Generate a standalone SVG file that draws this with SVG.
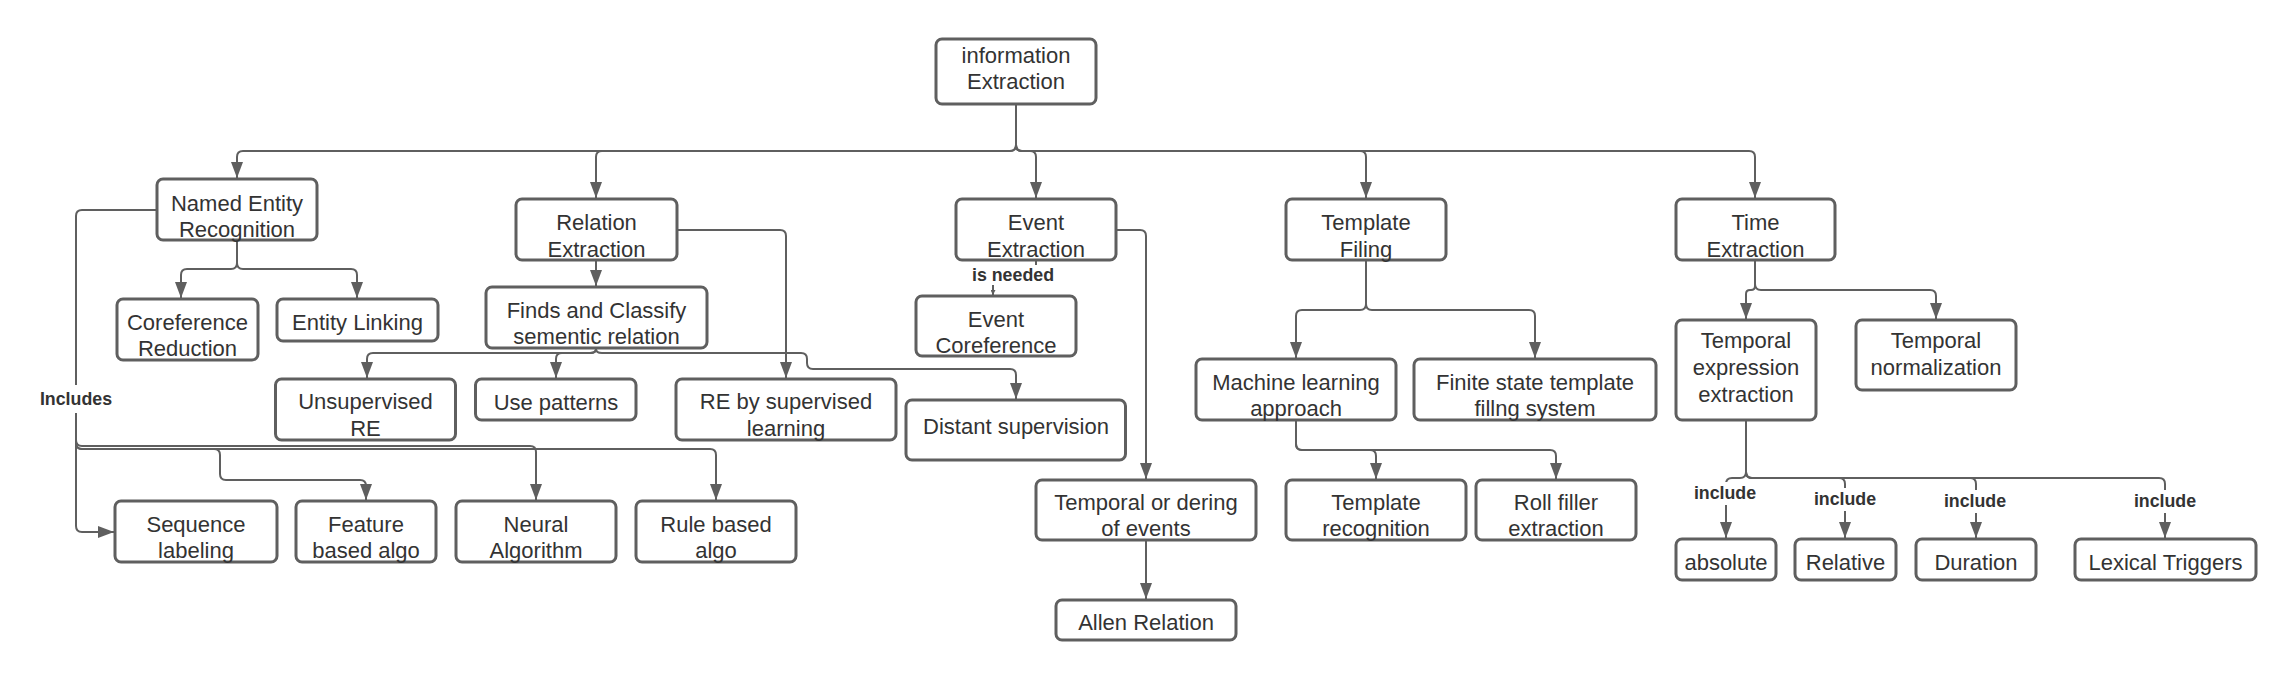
<svg xmlns="http://www.w3.org/2000/svg" width="2296" height="680" viewBox="0 0 2296 680">
<style>
.box{fill:#fff;stroke:#5f5f5f;stroke-width:3}
.t{font-family:"Liberation Sans",Arial,sans-serif;font-size:22px;fill:#333;text-anchor:middle}
.lbl{font-family:"Liberation Sans",Arial,sans-serif;font-size:17.8px;font-weight:bold;fill:#333;text-anchor:middle}
.c{fill:none;stroke:#5f5f5f;stroke-width:2}
.a{marker-end:url(#ah)}
.lb{fill:#fff}
</style>
<defs>
<marker id="ah" viewBox="0 0 16 12" refX="16" refY="6" markerWidth="16" markerHeight="12" markerUnits="userSpaceOnUse" orient="auto"><path d="M0,0 L16,6 L0,12 z" fill="#5f5f5f"/></marker>
<marker id="sm" viewBox="0 0 6 6" refX="6" refY="3" markerWidth="5" markerHeight="5" markerUnits="userSpaceOnUse" orient="auto"><path d="M0,0 L6,3 L0,6 z" fill="#5f5f5f"/></marker>
</defs>
<rect width="2296" height="680" fill="#fff"/>
<g id="connectors">
<path class="c a" d="M1016,104 V145 Q1016,151 1010,151 H243 Q237,151 237,157 V178"/>
<path class="c a" d="M1016,104 V145 Q1016,151 1010,151 H602 Q596,151 596,157 V198"/>
<path class="c a" d="M1016,104 V145 Q1016,151 1022,151 H1030 Q1036,151 1036,157 V198"/>
<path class="c a" d="M1016,104 V145 Q1016,151 1022,151 H1360 Q1366,151 1366,157 V198"/>
<path class="c a" d="M1016,104 V145 Q1016,151 1022,151 H1749 Q1755,151 1755,157 V198"/>
<path class="c a" d="M237,240 V263 Q237,269 231,269 H187 Q181,269 181,275 V298"/>
<path class="c a" d="M237,240 V263 Q237,269 243,269 H351 Q357,269 357,275 V298"/>
<path class="c a" d="M596,260 V286"/>
<path class="c a" d="M677,230 H780 Q786,230 786,236 V378"/>
<path class="c a" d="M596,349 Q596,353 590,353 H373 Q367,353 367,359 V378"/>
<path class="c a" d="M596,349 Q596,353 590,353 H562 Q556,353 556,359 V378"/>
<path class="c a" d="M596,349 Q596,353 602,353 H801 Q807,353 807,359 V363 Q807,369 813,369 H1010 Q1016,369 1016,375 V399"/>
<path class="c a" d="M157,210 H82 Q76,210 76,216 V526 Q76,532 82,532 H114"/>
<path class="c a" d="M76,440 Q76,446 82,446 H530 Q536,446 536,452 V500"/>
<path class="c a" d="M76,443 Q76,449 82,449 H710 Q716,449 716,455 V500"/>
<path class="c a" d="M76,443 Q76,449 82,449 H214 Q220,449 220,455 V474 Q220,480 226,480 H360 Q366,480 366,486 V500"/>
<path class="c" d="M1036,260 V272 H999 Q993,272 993,278 V295" marker-end="url(#sm)"/>
<path class="c a" d="M1116,230 H1140 Q1146,230 1146,236 V479"/>
<path class="c a" d="M1146,540 V599"/>
<path class="c a" d="M1366,260 V304 Q1366,310 1360,310 H1302 Q1296,310 1296,316 V358"/>
<path class="c a" d="M1366,260 V304 Q1366,310 1372,310 H1529 Q1535,310 1535,316 V358"/>
<path class="c a" d="M1296,420 V444 Q1296,450 1302,450 H1370 Q1376,450 1376,456 V479"/>
<path class="c a" d="M1296,420 V444 Q1296,450 1302,450 H1550 Q1556,450 1556,456 V479"/>
<path class="c a" d="M1755,260 V286 Q1755,290 1751,290 H1750 Q1746,290 1746,294 V319"/>
<path class="c a" d="M1755,260 V284 Q1755,290 1761,290 H1930 Q1936,290 1936,296 V319"/>
<path class="c a" d="M1746,420 V472 Q1746,478 1740,478 H1732 Q1726,478 1726,484 V538"/>
<path class="c a" d="M1746,420 V472 Q1746,478 1752,478 H1839 Q1845,478 1845,484 V538"/>
<path class="c a" d="M1746,420 V472 Q1746,478 1752,478 H1970 Q1976,478 1976,484 V538"/>
<path class="c a" d="M1746,420 V472 Q1746,478 1752,478 H2159 Q2165,478 2165,484 V538"/>
<rect class="lb" x="36" y="385" width="80" height="28"/>
<text class="lbl" x="76" y="405">Includes</text>
<rect class="lb" x="970" y="265" width="86" height="20"/>
<text class="lbl" x="1013" y="281">is needed</text>
<rect class="lb" x="1690" y="482" width="70" height="23"/>
<text class="lbl" x="1725" y="499">include</text>
<rect class="lb" x="1810" y="488" width="70" height="23"/>
<text class="lbl" x="1845" y="505">include</text>
<rect class="lb" x="1940" y="490" width="70" height="23"/>
<text class="lbl" x="1975" y="507">include</text>
<rect class="lb" x="2130" y="490" width="70" height="23"/>
<text class="lbl" x="2165" y="507">include</text>
</g>
<g id="ie"><rect class="box" x="936" y="39" width="160" height="65" rx="6"/><text class="t" x="1016" y="63">information</text><text class="t" x="1016" y="89">Extraction</text></g>
<g id="ner"><rect class="box" x="157" y="179" width="160" height="61" rx="6"/><text class="t" x="237" y="211">Named Entity</text><text class="t" x="237" y="237">Recognition</text></g>
<g id="re"><rect class="box" x="516" y="199" width="161" height="61" rx="6"/><text class="t" x="596.5" y="230">Relation</text><text class="t" x="596.5" y="257">Extraction</text></g>
<g id="ee"><rect class="box" x="956" y="199" width="160" height="61" rx="6"/><text class="t" x="1036" y="230">Event</text><text class="t" x="1036" y="257">Extraction</text></g>
<g id="tf"><rect class="box" x="1286" y="199" width="160" height="61" rx="6"/><text class="t" x="1366" y="230">Template</text><text class="t" x="1366" y="257">Filing</text></g>
<g id="te"><rect class="box" x="1676" y="199" width="159" height="61" rx="6"/><text class="t" x="1755.5" y="230">Time</text><text class="t" x="1755.5" y="257">Extraction</text></g>
<g id="coref"><rect class="box" x="117" y="299" width="141" height="61" rx="6"/><text class="t" x="187.5" y="330">Coreference</text><text class="t" x="187.5" y="356">Reduction</text></g>
<g id="el"><rect class="box" x="277" y="299" width="161" height="42" rx="6"/><text class="t" x="357.5" y="330">Entity Linking</text></g>
<g id="finds"><rect class="box" x="486" y="287" width="221" height="61" rx="6"/><text class="t" x="596.5" y="318">Finds and Classify</text><text class="t" x="596.5" y="344">sementic relation</text></g>
<g id="evcoref"><rect class="box" x="916" y="296" width="160" height="60" rx="6"/><text class="t" x="996" y="327">Event</text><text class="t" x="996" y="353">Coreference</text></g>
<g id="unsup"><rect class="box" x="275.5" y="379" width="180" height="61" rx="6"/><text class="t" x="365.5" y="409">Unsupervised</text><text class="t" x="365.5" y="436">RE</text></g>
<g id="usep"><rect class="box" x="475.5" y="379" width="160.5" height="41" rx="6"/><text class="t" x="556" y="409.5">Use patterns</text></g>
<g id="resup"><rect class="box" x="676" y="379" width="220" height="61" rx="6"/><text class="t" x="786" y="409">RE by supervised</text><text class="t" x="786" y="436">learning</text></g>
<g id="distant"><rect class="box" x="906" y="400" width="219.5" height="60" rx="6"/><text class="t" x="1016" y="434">Distant supervision</text></g>
<g id="ml"><rect class="box" x="1196" y="359" width="200" height="61" rx="6"/><text class="t" x="1296" y="390">Machine learning</text><text class="t" x="1296" y="415.5">approach</text></g>
<g id="fs"><rect class="box" x="1414" y="359" width="242" height="61" rx="6"/><text class="t" x="1535" y="390">Finite state template</text><text class="t" x="1535" y="415.5">fillng system</text></g>
<g id="seq"><rect class="box" x="115" y="501" width="162" height="61" rx="6"/><text class="t" x="196" y="532">Sequence</text><text class="t" x="196" y="558">labeling</text></g>
<g id="feat"><rect class="box" x="296" y="501" width="140" height="61" rx="6"/><text class="t" x="366" y="532">Feature</text><text class="t" x="366" y="558">based algo</text></g>
<g id="neural"><rect class="box" x="456" y="501" width="160" height="61" rx="6"/><text class="t" x="536" y="532">Neural</text><text class="t" x="536" y="558">Algorithm</text></g>
<g id="rule"><rect class="box" x="636" y="501" width="160" height="61" rx="6"/><text class="t" x="716" y="532">Rule based</text><text class="t" x="716" y="558">algo</text></g>
<g id="tord"><rect class="box" x="1036" y="480" width="220" height="60" rx="6"/><text class="t" x="1146" y="510">Temporal or dering</text><text class="t" x="1146" y="536">of events</text></g>
<g id="trec"><rect class="box" x="1286" y="480" width="180" height="60" rx="6"/><text class="t" x="1376" y="510">Template</text><text class="t" x="1376" y="536">recognition</text></g>
<g id="roll"><rect class="box" x="1476" y="480" width="160" height="60" rx="6"/><text class="t" x="1556" y="510">Roll filler</text><text class="t" x="1556" y="536">extraction</text></g>
<g id="allen"><rect class="box" x="1056" y="600" width="180" height="40" rx="6"/><text class="t" x="1146" y="630">Allen Relation</text></g>
<g id="tee"><rect class="box" x="1676" y="320" width="140" height="100" rx="6"/><text class="t" x="1746" y="348">Temporal</text><text class="t" x="1746" y="375">expression</text><text class="t" x="1746" y="402">extraction</text></g>
<g id="tn"><rect class="box" x="1856" y="320" width="160" height="70" rx="6"/><text class="t" x="1936" y="348">Temporal</text><text class="t" x="1936" y="375">normalization</text></g>
<g id="abs"><rect class="box" x="1676" y="539" width="100" height="41" rx="6"/><text class="t" x="1726" y="570">absolute</text></g>
<g id="rel"><rect class="box" x="1795" y="539" width="101" height="41" rx="6"/><text class="t" x="1845.5" y="570">Relative</text></g>
<g id="dur"><rect class="box" x="1916" y="539" width="120" height="41" rx="6"/><text class="t" x="1976" y="570">Duration</text></g>
<g id="lex"><rect class="box" x="2075" y="539" width="181" height="41" rx="6"/><text class="t" x="2165.5" y="570">Lexical Triggers</text></g>
</svg>
